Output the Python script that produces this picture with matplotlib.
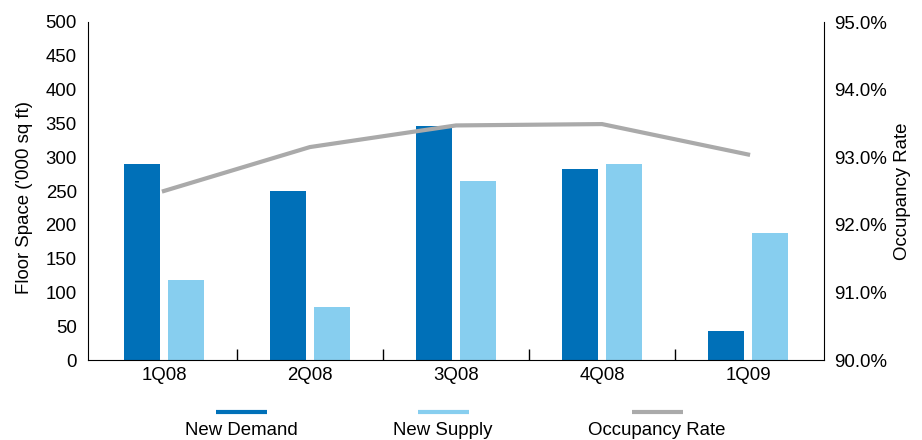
import matplotlib
matplotlib.use("Agg")
import matplotlib.pyplot as plt
from matplotlib.lines import Line2D
from matplotlib.ticker import FuncFormatter, FixedLocator
import numpy as np

plt.rcParams['font.family'] = ['Liberation Sans', 'DejaVu Sans']

quarters = ["1Q08", "2Q08", "3Q08", "4Q08", "1Q09"]
new_demand = [290, 250, 346, 283, 43]
new_supply = [118, 78, 265, 290, 188]
occupancy = [92.50, 93.15, 93.47, 93.49, 93.04]

c_demand = "#0070B8"
c_supply = "#87CEEF"
c_occ = "#AAAAAA"
fs = 13.4

fig = plt.figure(figsize=(9.22, 4.4), dpi=100)
ax = fig.add_axes([0.0954, 0.1818, 0.7983, 0.7682])
x = np.arange(len(quarters))
w = 0.247
ax.bar(x - 0.15, new_demand, width=w, color=c_demand, zorder=2)
ax.bar(x + 0.15, new_supply, width=w, color=c_supply, zorder=2)
ax.set_xlim(-0.52, len(quarters) - 0.48)
ax.set_ylim(0, 500)
ax.set_yticks(np.arange(0, 501, 50))
ax.set_xticks(x)
ax.set_xticklabels(quarters, fontsize=fs)
ax.tick_params(axis='x', length=0, pad=5)
ax.xaxis.set_minor_locator(FixedLocator(x[:-1] + 0.5))
ax.tick_params(axis='x', which='minor', direction='in', length=8, width=1)
ax.tick_params(axis='y', length=0, pad=8, labelsize=fs)
ax.set_ylabel("Floor Space ('000 sq ft)", fontsize=fs, labelpad=9)
ax.yaxis.label.set_y(0.48)
for s in ['top', 'right']:
    ax.spines[s].set_visible(False)

ax2 = ax.twinx()
ax2.plot(x, occupancy, color=c_occ, lw=3, zorder=3)
ax2.set_ylim(90, 95)
ax2.set_yticks(np.arange(90, 95.01, 1))
ax2.yaxis.set_major_formatter(FuncFormatter(lambda v, p: f"{v:.1f}%"))
ax2.tick_params(axis='y', length=0, pad=7, labelsize=fs)
ax2.set_ylabel("Occupancy Rate", fontsize=fs, labelpad=5)
for s in ['top', 'left', 'bottom']:
    ax2.spines[s].set_visible(False)

# legend: colour swatch above each label
items = [("New Demand", c_demand, 241), ("New Supply", c_supply, 443), ("Occupancy Rate", c_occ, 657)]
W, H = 922, 440
for label, col, cx in items:
    fig.add_artist(Line2D([(cx - 25.5) / W, (cx + 25.5) / W], [1 - 412 / H] * 2,
                          color=col, lw=3, solid_capstyle='butt'))
    fig.text(cx / W, 1 - 430 / H, label, ha='center', va='center', fontsize=fs)

fig.savefig("out.png", dpi=100)
